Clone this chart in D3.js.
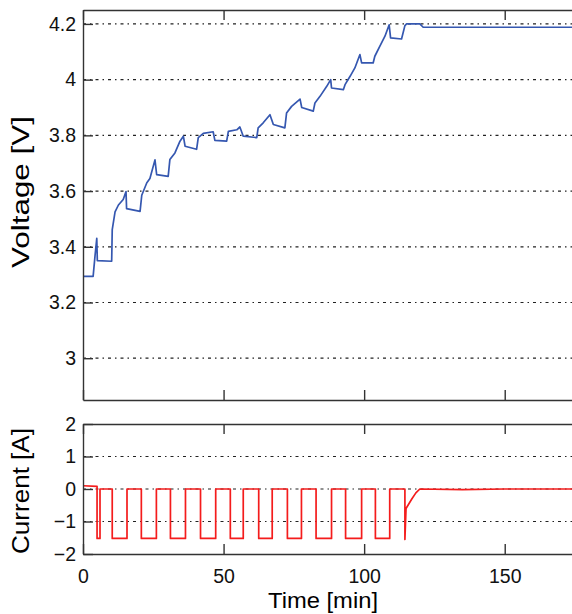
<!DOCTYPE html>
<html>
<head>
<meta charset="utf-8">
<script src="https://cdn.jsdelivr.net/npm/d3@7"></script>
<style>
  body { margin: 0; background: #fff; }
  svg { display: block; font-family: "Liberation Sans", Arial, sans-serif; }
  .axis path { stroke: #333; stroke-width: 1.4; }
  .axis line { stroke: #333; stroke-width: 1.4; }
  .axis text { font-size: 19.5px; fill: #111; }
  .grid line { stroke: #222; stroke-width: 1.2; stroke-dasharray: 3,4,1.5,4; }
</style>
</head>
<body>
<script>
// voltage trace, [time min, volt]
var voltage = [[0,3.294],[3.6,3.294],[4.3,3.37],[4.9,3.43],[5.1,3.35],[10.2,3.348],[10.4,3.462],
  [11.4,3.525],[12.6,3.55],[14.3,3.57],[15.3,3.598],[15.5,3.537],[20.3,3.527],[20.9,3.585],
  [22.7,3.63],[23.8,3.645],[25.6,3.712],[26.2,3.659],[30.3,3.653],[30.9,3.713],[32.7,3.737],
  [34.5,3.779],[35.7,3.797],[36.3,3.761],[40.4,3.75],[41.0,3.792],[42.8,3.807],[46.3,3.813],
  [46.9,3.782],[51.1,3.779],[51.7,3.814],[54.7,3.82],[55.8,3.83],[57.0,3.797],[61.8,3.792],
  [62.3,3.827],[64.1,3.845],[66.5,3.874],[67.7,3.839],[71.8,3.827],[72.4,3.88],[74.2,3.904],
  [77.2,3.93],[77.8,3.9],[81.9,3.887],[82.5,3.916],[84.3,3.94],[86.7,3.976],[88.1,4.0],
  [88.4,3.97],[92.6,3.964],[93.2,3.982],[95.0,4.012],[96.7,4.042],[98.5,4.09],[99.1,4.06],
  [103.2,4.06],[103.8,4.084],[105.6,4.12],[107.4,4.156],[108.9,4.197],[109.4,4.15],
  [113.3,4.146],[114.5,4.194],[115.1,4.2],[119.8,4.2],[121.0,4.188],[175,4.188]];

// current trace, [time min, amp]
var current = [[0,0.1],[5.0,0.08],[5.0,-1.52],[6.05,-1.52],[6.05,0],[10.4,0],[10.4,-1.52],
  [15.65,-1.52],[15.65,0],[20.75,0],[20.75,-1.52],[26.1,-1.52],[26.1,0],[31.1,0],[31.1,-1.52],
  [36.45,-1.52],[36.45,0],[41.8,0],[41.8,-1.52],[47.2,-1.52],[47.2,0],[52.4,0],[52.4,-1.52],
  [57.0,-1.52],[57.0,0],[62.5,0],[62.5,-1.52],[67.3,-1.52],[67.3,0],[72.7,0],[72.7,-1.52],
  [77.7,-1.52],[77.7,0],[82.9,0],[82.9,-1.52],[88.4,-1.52],[88.4,0],[93.4,0],[93.4,-1.52],
  [99.1,-1.52],[99.1,0],[104.0,0],[104.0,-1.52],[109.1,-1.52],[109.1,0],[114.5,0],[114.5,-1.55],
  [114.9,-0.6],[115.6,-0.5],[117.0,-0.3],[118.4,-0.12],[119.8,0],[135,-0.02],[150,0],[175,0]];

var timeTicks = [0, 50, 100, 150];
var voltTicks = [3, 3.2, 3.4, 3.6, 3.8, 4, 4.2];
var currTicks = [-2, -1, 0, 1, 2];

var W = 572, H = 614;
var left = 83, right = 575;

var svg = d3.select("body").append("svg")
  .attr("width", W)
  .attr("height", H);

var x = d3.scaleLinear().domain([0, 175]).range([left, right]);
var yV = d3.scaleLinear().domain([2.85, 4.25]).range([400, 10]);
var yI = d3.scaleLinear().domain([-2, 2]).range([554, 424]);

function panel(y, ticks, data, color, fmt, showX) {
  var top = y.range()[1], bot = y.range()[0];
  var g = svg.append("g");

  // dotted grid
  g.append("g").attr("class", "grid")
    .selectAll("line")
    .data(ticks.filter(function (t) { return y(t) > top + 1 && y(t) < bot - 1; }))
    .enter().append("line")
    .attr("x1", left).attr("x2", right)
    .attr("y1", function (d) { return y(d); })
    .attr("y2", function (d) { return y(d); });

  var line = d3.line()
    .x(function (d) { return x(d[0]); })
    .y(function (d) { return y(d[1]); });

  g.append("path")
    .datum(data)
    .attr("d", line)
    .attr("fill", "none")
    .attr("stroke", color)
    .attr("stroke-width", 1.7)
    .attr("stroke-linejoin", "round");

  g.append("g").attr("class", "axis")
    .attr("transform", "translate(" + left + ",0)")
    .call(d3.axisLeft(y).tickValues(ticks).tickFormat(fmt).tickSize(-10).tickSizeOuter(0).tickPadding(7));

  g.append("g").attr("class", "axis")
    .attr("transform", "translate(0," + top + ")")
    .call(d3.axisTop(x).tickValues(timeTicks).tickFormat("").tickSize(-10).tickSizeOuter(0));

  var xb = g.append("g").attr("class", "axis")
    .attr("transform", "translate(0," + bot + ")")
    .call(d3.axisBottom(x).tickValues(timeTicks).tickSize(-10).tickSizeOuter(0).tickPadding(15));
  if (!showX) xb.selectAll("text").remove();
}

panel(yV, voltTicks, voltage, "#3557b0", d3.format("~g"), false);
panel(yI, currTicks, current, "#f41c1c", d3.format("~g"), true);

// axis labels
svg.append("text")
  .attr("transform", "translate(29,192) rotate(-90)")
  .attr("text-anchor", "middle")
  .attr("textLength", 152)
  .attr("lengthAdjust", "spacingAndGlyphs")
  .style("font-size", "23px")
  .text("Voltage [V]");

svg.append("text")
  .attr("transform", "translate(29,491) rotate(-90)")
  .attr("text-anchor", "middle")
  .attr("textLength", 126)
  .attr("lengthAdjust", "spacingAndGlyphs")
  .style("font-size", "23px")
  .text("Current [A]");

svg.append("text")
  .attr("x", 323).attr("y", 608)
  .attr("text-anchor", "middle")
  .attr("textLength", 110)
  .attr("lengthAdjust", "spacingAndGlyphs")
  .style("font-size", "22px")
  .text("Time [min]");
</script>
</body>
</html>
